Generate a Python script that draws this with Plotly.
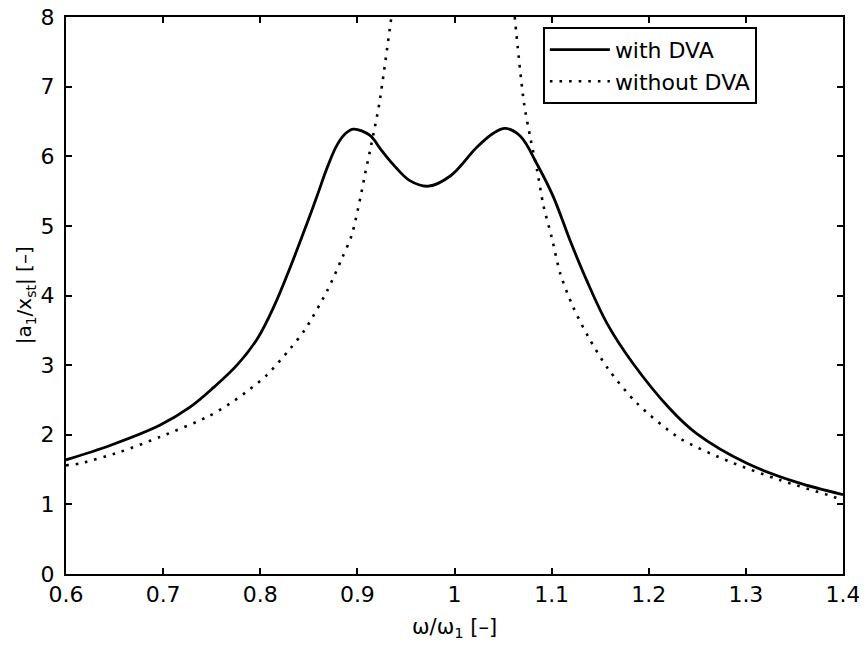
import plotly.graph_objects as go

# ---- data ----
with_dva_x = [0.600, 0.646, 0.697, 0.728, 0.752, 0.776, 0.797, 0.814, 0.831, 0.848,
              0.858, 0.869, 0.879, 0.888, 0.896, 0.913, 0.9235, 0.937, 0.954, 0.973,
              0.996, 1.023, 1.040, 1.052, 1.0676, 1.086, 1.102, 1.119, 1.136,
              1.157, 1.184, 1.222, 1.249, 1.301, 1.352, 1.400]
with_dva_y = [1.64, 1.85, 2.14, 2.40, 2.68, 3.00, 3.38, 3.84, 4.41, 5.03,
              5.41, 5.84, 6.16, 6.33, 6.39, 6.30, 6.11, 5.88, 5.65, 5.57,
              5.72, 6.13, 6.33, 6.40, 6.29, 5.86, 5.41, 4.79, 4.22,
              3.60, 3.02, 2.37, 2.02, 1.59, 1.32, 1.14]

without_left_x = [0.600, 0.615, 0.655, 0.697, 0.746, 0.769, 0.788, 0.807, 0.831, 0.846,
                  0.869, 0.884, 0.894, 0.903, 0.908, 0.913, 0.918, 0.9225, 0.935]
without_left_y = [1.56, 1.59, 1.75, 1.97, 2.26, 2.45, 2.64, 2.86, 3.24, 3.51,
                  4.07, 4.53, 4.86, 5.40, 5.75, 6.08, 6.42, 6.75, 8.00]
without_right_x = [1.062, 1.0716, 1.078, 1.085, 1.0916, 1.100, 1.109, 1.122, 1.138, 1.158,
                   1.188, 1.232, 1.284, 1.335, 1.390, 1.400]
without_right_y = [8.00, 6.76, 6.27, 5.80, 5.29, 4.84, 4.31, 3.84, 3.40, 2.95,
                   2.45, 1.95, 1.61, 1.35, 1.11, 1.06]

x_tick_vals = [0.6, 0.7, 0.8, 0.9, 1.0, 1.1, 1.2, 1.3, 1.4]
x_tick_text = ["0.6", "0.7", "0.8", "0.9", "1", "1.1", "1.2", "1.3", "1.4"]
y_tick_vals = [0, 1, 2, 3, 4, 5, 6, 7, 8]
y_tick_text = ["0", "1", "2", "3", "4", "5", "6", "7", "8"]

x_title = "ω/ω<sub>1</sub> [–]"
y_title = "|a<sub>1</sub>/x<sub>st</sub>| [–]"

FONT = "DejaVu Sans, Arial, sans-serif"

fig = go.Figure()
fig.add_trace(go.Scatter(
    x=with_dva_x, y=with_dva_y, mode="lines", name="with DVA",
    line=dict(color="black", width=2.8, shape="spline", smoothing=1.0),
))
fig.add_trace(go.Scatter(
    x=without_left_x + [None] + without_right_x,
    y=without_left_y + [None] + without_right_y,
    mode="lines", name="without DVA",
    line=dict(color="black", width=2.6, dash="2.6px,7px", shape="spline", smoothing=0.8),
))

axis_common = dict(
    showline=True, linecolor="black", linewidth=2, mirror="allticks",
    ticks="inside", ticklen=6, tickwidth=1.5, tickcolor="black",
    showgrid=False, zeroline=False, automargin=False,
    ticklabeloverflow="allow",
    tickfont=dict(family=FONT, size=22, color="black"),
)

# the page body adds an 8px offset; margins are reduced to compensate
fig.update_layout(
    width=859, height=638,
    margin=dict(l=58, r=24, t=9, b=72),
    paper_bgcolor="white", plot_bgcolor="white",
    font=dict(family=FONT, color="black"),
    showlegend=True,
    legend=dict(
        x=0.614, y=0.982, xanchor="left", yanchor="top",
        bordercolor="black", borderwidth=1.8, bgcolor="white",
        font=dict(family=FONT, size=22, color="black"),
        itemwidth=60, tracegroupgap=0,
    ),
    xaxis=dict(range=[0.6, 1.4], tickvals=x_tick_vals, ticktext=x_tick_text, **axis_common),
    yaxis=dict(range=[0, 8], tickvals=y_tick_vals, ticktext=y_tick_text,
               ticklabelstandoff=5, **axis_common),
    annotations=[
        dict(text=x_title, xref="paper", yref="paper", x=0.5, y=-0.097,
             xanchor="center", yanchor="middle", showarrow=False,
             font=dict(family=FONT, size=21, color="black")),
        dict(text=y_title, xref="paper", yref="paper", x=-0.053, y=0.5,
             xanchor="center", yanchor="middle", textangle=-90, showarrow=False,
             font=dict(family=FONT, size=20, color="black")),
    ],
)

fig.write_html("out.html")
